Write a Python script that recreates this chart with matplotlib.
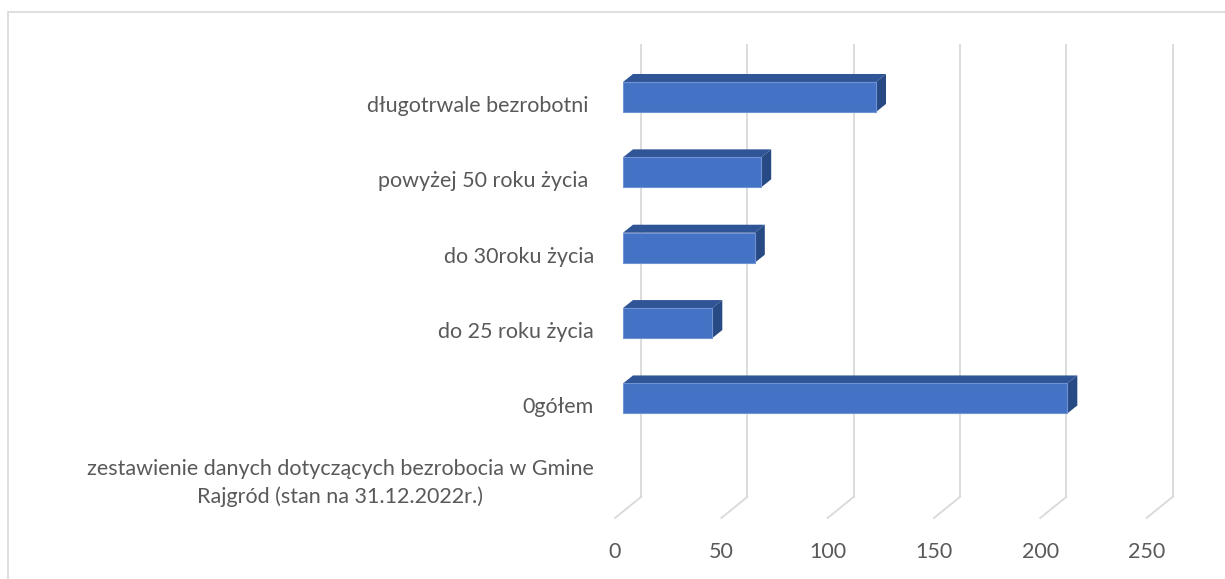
import matplotlib.pyplot as plt
from matplotlib.patches import Rectangle
from matplotlib import transforms

# Dane
kategorie = ['zestawienie danych dotyczących bezrobocia w Gmine\nRajgród (stan na 31.12.2022r.)',
             '0gółem', 'do 25 roku życia', 'do 30roku życia',
             'powyżej 50 roku życia ', 'długotrwale bezrobotni ']
wartosci = [0, 209, 42, 62, 65, 119]
ticki_x = [0, 50, 100, 150, 200, 250]

plt.rcParams['font.family'] = ['Lato', 'DejaVu Sans']
kolor_tekstu = '#595959'
kolor_siatki = '#D9D9D9'
rozmiar = 15.5

fig = plt.figure(figsize=(12.25, 5.79), dpi=100)
ax = fig.add_axes([623 / 1225, 0.1166, 531.5 / 1225, 0.781])
ax.set_xlim(0, 250)
ax.set_ylim(-0.5, len(kategorie) - 0.5)
for s in ax.spines.values():
    s.set_visible(False)
ax.set_xticks([])
ax.tick_params(axis='y', length=0, pad=21, labelsize=rozmiar, labelcolor=kolor_tekstu)
ax.set_yticks(range(len(kategorie)))
ax.set_yticklabels(kategorie)
for lab in ax.get_yticklabels():
    lab.set_multialignment('center')
    lab.set_linespacing(1.5)
    dol = -0.03 if '\n' in lab.get_text() else -0.07
    lab.set_transform(lab.get_transform() +
                      transforms.ScaledTranslation(0, dol, fig.dpi_scale_trans))

# przeliczenie pikseli na jednostki danych
p0 = ax.transData.transform((0, 0))
p1 = ax.transData.transform((1, 1))
kx = p1[0] - p0[0]
ky = p1[1] - p0[1]

# siatka 3D (tylna ściana + podłoga)
mix = transforms.blended_transform_factory(ax.transData, ax.transAxes)
for t in ticki_x:
    xb = t + 18 / kx
    xf = t - 8 / kx
    ax.plot([xb, xb], [1.0316, 0.0321], color=kolor_siatki, lw=1.3, transform=mix,
            clip_on=False, zorder=0)
    ax.plot([xb, xf], [0.0321, -0.0144], color=kolor_siatki, lw=1.3, transform=mix,
            clip_on=False, zorder=0)
    ax.text(xf, -0.09, str(t), transform=mix, ha='center', va='center',
            fontsize=rozmiar, color=kolor_tekstu)

# słupki 3D
h = 0.398
dx = 10 / kx
dy = 8 / ky
for i, v in enumerate(wartosci):
    if v == 0:
        continue
    g = i + h / 2
    d = i - h / 2
    ax.fill([0, v, v + dx, dx], [g, g, g + dy, g + dy], color='#2F5597', zorder=2, lw=0)
    ax.fill([v, v, v + dx, v + dx], [d, g, g + dy, d + dy], color='#284A84', zorder=2, lw=0)
ax.barh(range(len(kategorie)), wartosci, height=h, color='#4472C4',
        edgecolor='#6F93D3', linewidth=[0 if v == 0 else 0.8 for v in wartosci], zorder=3)

# ramka wykresu
fig.patches.append(Rectangle((8 / 1225, -0.1), 1.2, (579 - 12) / 579 + 0.1,
                             transform=fig.transFigure, fill=False,
                             edgecolor=kolor_siatki, lw=1.2))

fig.savefig('out.png', dpi=100)
